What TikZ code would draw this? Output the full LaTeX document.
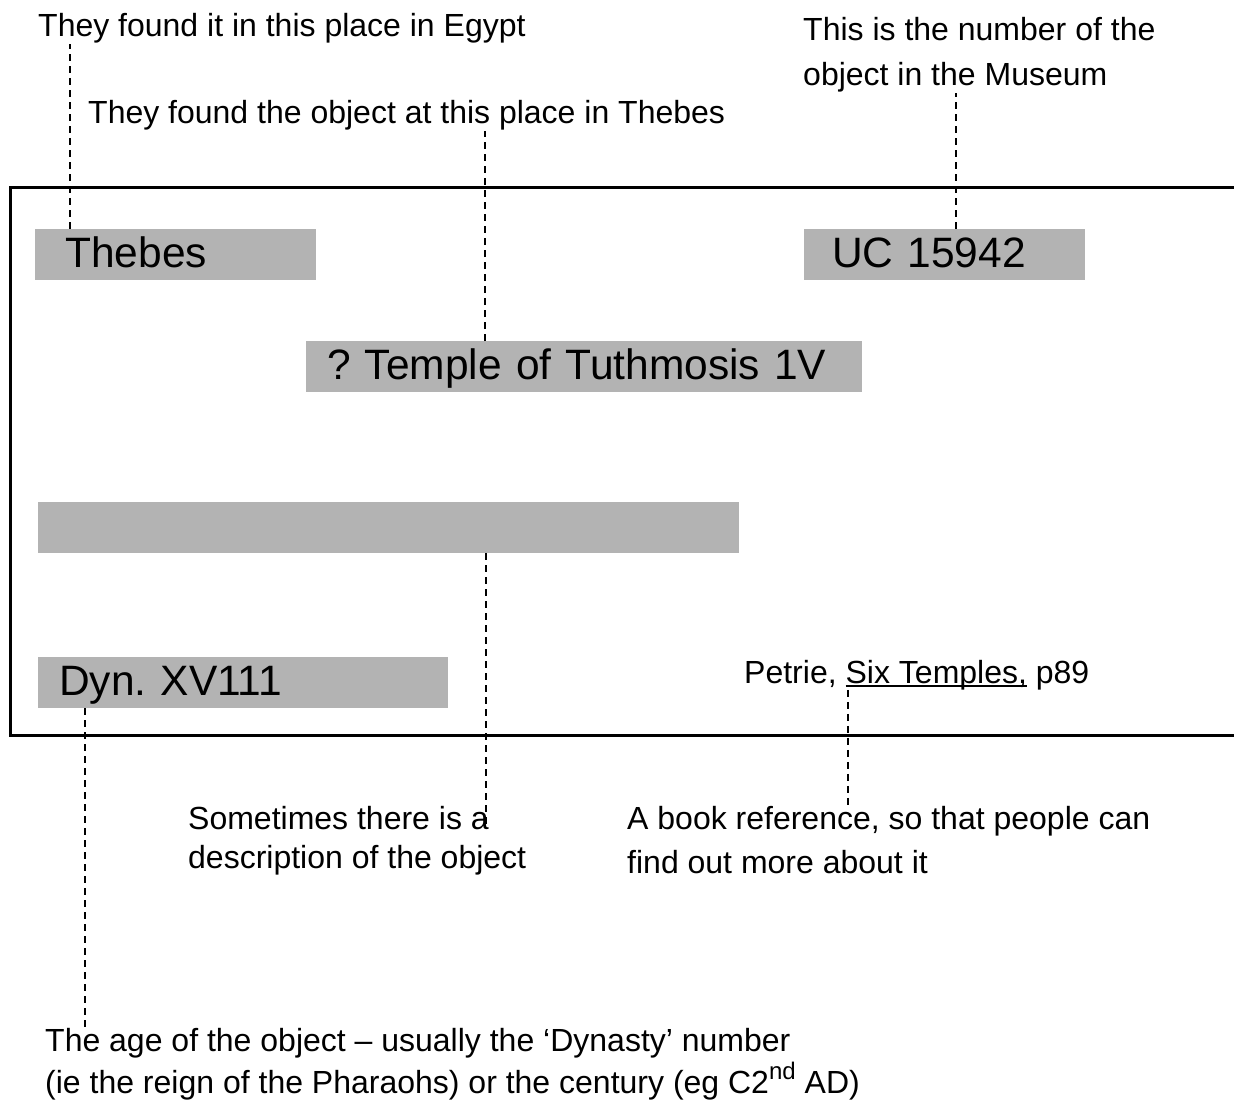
\documentclass[tikz,border=0pt]{standalone}
\usepackage{fontspec}
\setmainfont{Liberation Sans}
\usetikzlibrary{calc}
\frenchspacing

\definecolor{tagfill}{HTML}{B3B3B3}
\newcommand{\bookline}[1]{\setbox0\hbox{#1}\rlap{\rule[-4pt]{\wd0}{2pt}}\box0\relax}
\newcommand{\ordinal}[1]{\raisebox{0.42em}{\fontsize{24}{24}\selectfont #1}}

\begin{document}
\begin{tikzpicture}[x=1pt, y=-1pt,
    tag/.style={fill=tagfill, anchor=north west, inner ysep=0pt, text height=38pt, text depth=13pt, align=left, font=\fontsize{42.5}{50}\selectfont},
    note/.style={anchor=base west, inner sep=0pt, align=left, font=\fontsize{32}{#1}\selectfont},
    note/.default=44,
    lead/.style={line width=2pt, dash pattern=on 7pt off 5pt}]
    \useasboundingbox (0,0) rectangle (1234,1102);

    % the label card
    \draw[line width=3pt] (1234,188) -- (10,188) -- (10,735) -- (1234,735);

    \node[tag, text width=221pt, inner xsep=30pt] (site) at (35,229) {Thebes};
    \node[tag, text width=225pt, inner xsep=28pt] (uc) at (804,229) {UC 15942};
    \node[tag, text width=514pt, inner xsep=21pt] (temple) at (306,341) {? Temple of Tuthmosis 1V};
    \node[tag, text width=701pt, inner xsep=0pt] (blank) at (38,502) {};
    \node[tag, text width=368pt, inner xsep=21pt] (dyn) at (38,657) {Dyn. XV111};
    \node[note] (ref) at (744,683) {Petrie, \bookline{Six Temples,} p89};

    % notes round the card (base = last line)
    \node[note] (egypt) at (38,37) {They found it in this place in Egypt};
    \node[note] (place) at (88,124) {They found the object at this place in Thebes};
    \node[note=45] (museum) at (803,86) {This is the number of the\\object in the Museum};
    \node[note=39] (descr) at (188,868) {Sometimes there is a\\description of the object};
    \node[note] (book) at (627,873) {A book reference, so that people can\\find out more about it};
    \node[note=42] (age) at (45,1093) {The age of the object -- usually the `Dynasty' number\\(ie the reign of the Pharaohs) or the century (eg C2\ordinal{nd} AD)};

    \draw[lead] ($(site.north west)+(35,0)$) -- ($(egypt.south west)+(32,0)$);
    \draw[lead] ($(temple.north west)+(179,0)$) -- ($(place.south west)+(397,0)$);
    \draw[lead] ($(uc.north west)+(152,0)$) -- ($(museum.south west)+(153,0)$);
    \draw[lead] ($(blank.south west)+(448,0)$) -- ($(descr.north west)+(298,20)$);
    \draw[lead] ($(ref.south west)+(104,0)$) -- ($(book.north west)+(221,0)$);
    \draw[lead] ($(dyn.south west)+(47,0)$) -- ($(age.north west)+(40,0)$);
\end{tikzpicture}
\end{document}
